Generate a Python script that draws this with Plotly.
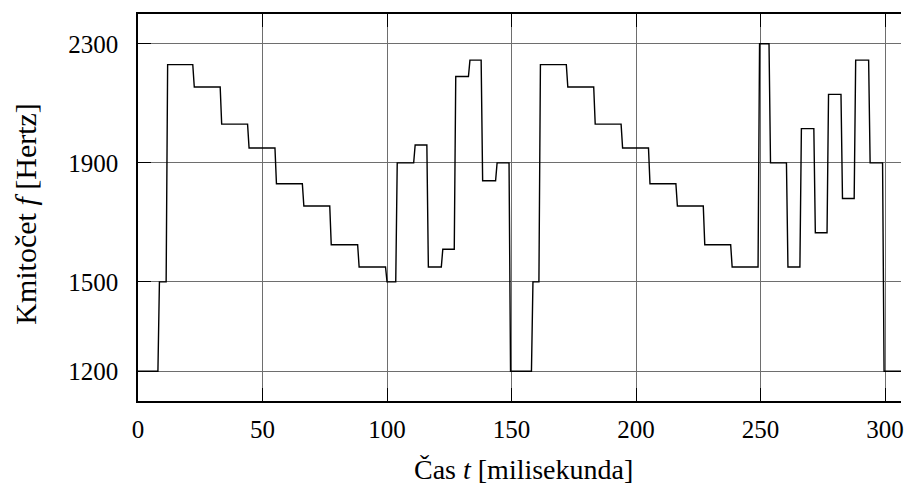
import plotly.graph_objects as go

# Segment start times [ms] and the frequency held from each start [Hz]
seg_start = [0, 8, 11.3, 22, 33, 44, 55, 66, 77, 88.2, 99.4, 103.5, 110.7, 116, 121.8, 127,
             132.7, 137.8, 143.6, 149, 158, 161, 172, 183, 194, 205, 216, 227, 238, 249,
             253.4, 260.4, 265.8, 271.4, 276.7, 282.3, 287.6, 293.4, 299]
seg_freq = [1200, 1500, 2230, 2155, 2030, 1950, 1830, 1755, 1625, 1550, 1500, 1900, 1960, 1550,
            1610, 2190, 2245, 1840, 1900, 1200, 1500, 2230, 2155, 2030, 1950, 1830, 1755, 1625,
            1550, 2300, 1900, 1550, 2015, 1665, 2130, 1780, 2245, 1900, 1200]
t_end = 312
ramp = 0.6  # transition time [ms]

xs, ys = [], []
for i, (t0, f) in enumerate(zip(seg_start, seg_freq)):
    t1 = seg_start[i + 1] if i + 1 < len(seg_start) else t_end
    xs += [t0 + (ramp if i > 0 else 0), t1]
    ys += [f, f]

y_ticks = [1200, 1500, 1900, 2300]
x_ticks = [0, 50, 100, 150, 200, 250, 300]

FONT = "Liberation Serif"

fig = go.Figure()
fig.add_trace(go.Scatter(x=xs, y=ys, mode="lines",
                         line=dict(color="black", width=1.4, shape="linear"),
                         showlegend=False, hoverinfo="skip"))

fig.update_layout(
    width=904, height=486,
    margin=dict(l=138, r=0, t=14, b=85),
    paper_bgcolor="white", plot_bgcolor="white",
    font=dict(family=FONT, size=25, color="black"),
    xaxis=dict(range=[0, 306.4], tickvals=x_ticks, ticktext=[str(v) for v in x_ticks],
               showgrid=True, gridcolor="#6e6e6e", gridwidth=1,
               showline=True, linecolor="black", linewidth=1.5, mirror="ticks",
               ticks="inside", ticklen=13, tickcolor="black", tickwidth=1.2,
               ticklabelstandoff=5, ticklabeloverflow="allow", zeroline=False),
    yaxis=dict(range=[1100, 2400], tickvals=y_ticks, ticktext=[str(v) for v in y_ticks],
               showgrid=True, gridcolor="#6e6e6e", gridwidth=1,
               showline=True, linecolor="black", linewidth=1.5, mirror=False,
               ticks="inside", ticklen=13, tickcolor="black", tickwidth=1.2,
               ticklabelstandoff=13, zeroline=False),
    annotations=[
        dict(text="Čas <i>t</i> [milisekunda]", xref="x", yref="paper",
             x=154.7, y=-0.178, xanchor="center", yanchor="middle", showarrow=False,
             font=dict(family=FONT, size=28)),
        dict(text="Kmitočet <i>f</i> [Hertz]", xref="paper", yref="paper",
             x=-0.1475, y=0.485, xanchor="center", yanchor="middle", showarrow=False,
             textangle=-90, font=dict(family=FONT, size=30)),
    ],
)

fig.write_html("out.html")
